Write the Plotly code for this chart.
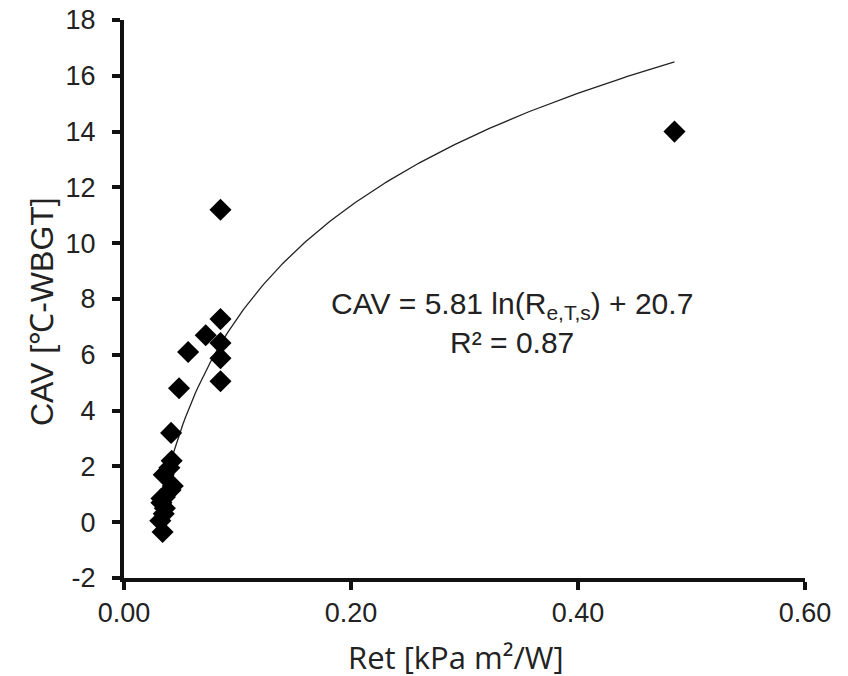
import numpy as np
import plotly.graph_objects as go

# Observed data (Ret vs CAV)
ret_values = [0.485, 0.085, 0.085, 0.072, 0.085, 0.085, 0.085, 0.0565, 0.0485, 0.0415,
              0.042, 0.040, 0.035, 0.043, 0.041, 0.036, 0.033, 0.036, 0.035, 0.032, 0.034, 0.033]
cav_values = [14.0, 11.2, 7.28, 6.7, 6.42, 5.88, 5.05, 6.1, 4.8, 3.2,
              2.2, 1.95, 1.7, 1.3, 1.15, 0.9, 0.7, 0.5, 0.3, 0.05, -0.35, 0.85]

# Logarithmic fit shown on the chart
fit_slope = 5.81
fit_intercept = 20.7
fit_x_start = 0.043
fit_x_end = 0.485

x_ticks = [0.0, 0.2, 0.4, 0.6]
x_tick_labels = ["0.00", "0.20", "0.40", "0.60"]
y_ticks = list(range(-2, 19, 2))
y_tick_labels = [str(v) for v in y_ticks]

x_title = "Ret [kPa m²/W]"
y_title = "CAV [℃-WBGT]"
fit_label = "CAV = 5.81 ln(R<sub>e,T,s</sub>) + 20.7<br>R² = 0.87"

fit_x = np.linspace(fit_x_start, fit_x_end, 200)
fit_y = fit_slope * np.log(fit_x) + fit_intercept

fig = go.Figure()
fig.add_trace(go.Scatter(x=fit_x, y=fit_y, mode="lines",
                         line=dict(color="#222222", width=1.3), hoverinfo="skip"))
fig.add_trace(go.Scatter(x=ret_values, y=cav_values, mode="markers",
                         marker=dict(symbol="diamond", size=17, color="#000000")))

fig.add_annotation(x=0.342, y=7.15, xref="x", yref="y",
                   text=fit_label, showarrow=False, align="center",
                   font=dict(family="Liberation Sans, Arial", size=30, color="#222222"))

# Axis titles
fig.add_annotation(x=0.4875, y=-0.142, xref="paper", yref="paper",
                   xanchor="center", yanchor="middle", text=x_title, showarrow=False,
                   font=dict(family="Open Sans", size=31, color="#222222"))
fig.add_annotation(x=-0.1204, y=0.4767, xref="paper", yref="paper",
                   xanchor="center", yanchor="middle", text=y_title, showarrow=False,
                   textangle=-90,
                   font=dict(family="Liberation Sans, Arial", size=32, color="#222222"))

axis_common = dict(showline=True, linecolor="#111111", linewidth=4,
                   ticks="outside", ticklen=8, tickwidth=4, tickcolor="#111111",
                   showgrid=False, zeroline=False, mirror=False, automargin=False,
                   ticklabeloverflow="allow",
                   tickfont=dict(family="Liberation Sans, Arial", size=27, color="#222222"))

fig.update_xaxes(range=[0, 0.6], tickvals=x_ticks, ticktext=x_tick_labels,
                 ticklabelstandoff=0, **axis_common)
fig.update_yaxes(range=[-2, 18], tickvals=y_ticks, ticktext=y_tick_labels,
                 ticklabelstandoff=11, **axis_common)

fig.update_layout(width=840, height=668, showlegend=False,
                  plot_bgcolor="white", paper_bgcolor="white",
                  margin=dict(l=116, r=43, t=12, b=98))

fig.write_html("out.html")
